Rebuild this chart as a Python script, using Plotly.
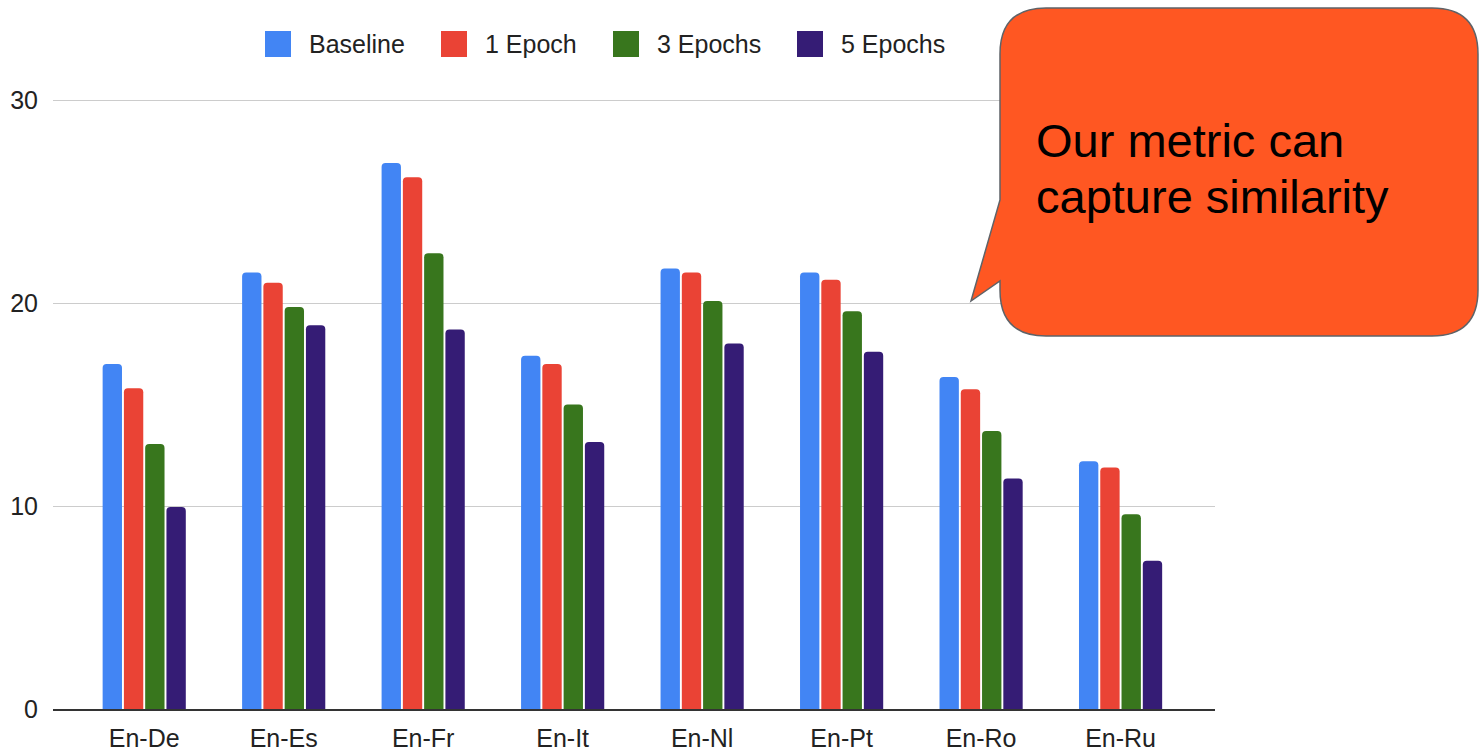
import plotly.graph_objects as go

categories = ["En-De", "En-Es", "En-Fr", "En-It", "En-Nl", "En-Pt", "En-Ro", "En-Ru"]
series_names = ["Baseline", "1 Epoch", "3 Epochs", "5 Epochs"]
baseline = [17.0, 21.5, 26.9, 17.4, 21.7, 21.5, 16.35, 12.2]
epoch1 = [15.8, 21.0, 26.2, 17.0, 21.5, 21.15, 15.75, 11.9]
epoch3 = [13.05, 19.8, 22.45, 15.0, 20.1, 19.6, 13.7, 9.6]
epoch5 = [9.95, 18.9, 18.7, 13.15, 18.0, 17.6, 11.35, 7.3]
y_ticks = [0, 10, 20, 30]
callout_lines = ["Our metric can", "capture similarity"]

colors = ["#4285F4", "#EA4335", "#38761D", "#351C75"]
FONT = "Arial, Liberation Sans, sans-serif"

W, H = 1481, 751
L, R, T, B = 53, 1215, 98, 709
Y_MAX = 30.1


def px(x, y):
    return (x - L) / (R - L), (B - y) / (B - T)


fig = go.Figure()
for name, vals, c in zip(series_names, [baseline, epoch1, epoch3, epoch5], colors):
    fig.add_trace(go.Bar(x=categories, y=vals, name=name,
                         marker=dict(color=c, line=dict(width=0), cornerradius=4),
                         showlegend=False, hoverinfo="skip"))

shapes = []
annotations = []

# manual legend
leg_sq_x = [265, 441, 613, 797]
for name, c, sx in zip(series_names, colors, leg_sq_x):
    x0, y0 = px(sx, 57)
    x1, y1 = px(sx + 26, 31)
    shapes.append(dict(type="rect", xref="paper", yref="paper", x0=x0, y0=y0, x1=x1, y1=y1,
                       fillcolor=c, line=dict(width=0), layer="above"))
    ax, ay = px(sx + 42, 44)
    annotations.append(dict(xref="paper", yref="paper", x=ax, y=ay, text=name, showarrow=False,
                            xanchor="left", yanchor="middle",
                            font=dict(family=FONT, size=25, color="#222222")))


def P(x, y):
    a, b = px(x, y)
    return f"{a:.5f},{b:.5f}"


# callout shape
bl, bt, br, bb, r = 1000, 8, 1478, 336, 46
path = (f"M{P(bl, bt + r)} Q{P(bl, bt)} {P(bl + r, bt)} L{P(br - r, bt)} Q{P(br, bt)} {P(br, bt + r)} "
        f"L{P(br, bb - r)} Q{P(br, bb)} {P(br - r, bb)} L{P(bl + r, bb)} Q{P(bl, bb)} {P(bl, bb - r)} "
        f"L{P(bl, 281)} L{P(971, 301)} L{P(bl, 200)} Z")
shapes.append(dict(type="path", xref="paper", yref="paper", path=path, fillcolor="#FF5722",
                   line=dict(color="#5f6368", width=1.5), layer="above"))

for line, cy in zip(callout_lines, [140, 197]):
    ax, ay = px(1034, cy)
    annotations.append(dict(xref="paper", yref="paper", x=ax, y=ay, text=line, showarrow=False,
                            xanchor="left", yanchor="middle",
                            font=dict(family=FONT, size=47, color="#000000")))

fig.update_layout(
    width=W, height=H,
    margin=dict(l=L, r=W - R, t=T, b=H - B, pad=0),
    paper_bgcolor="white", plot_bgcolor="white",
    barmode="group", bargap=0.39, bargroupgap=0.09,
    shapes=shapes, annotations=annotations,
    font=dict(family=FONT, size=25, color="#222222"),
    xaxis=dict(range=[-0.654, 7.677], showline=True, linecolor="#333333", linewidth=1.5,
               showgrid=False, ticks="", ticklabelstandoff=6, automargin=False,
               tickfont=dict(size=25, color="#222222"), fixedrange=True),
    yaxis=dict(range=[0, Y_MAX], tickvals=y_ticks, showgrid=True, gridcolor="#cccccc", gridwidth=1.2,
               zeroline=False, showline=False, ticks="", ticklabelstandoff=14, automargin=False,
               tickfont=dict(size=25, color="#222222"), fixedrange=True),
    showlegend=False,
)

fig.write_html("out.html", config={"displayModeBar": False})
